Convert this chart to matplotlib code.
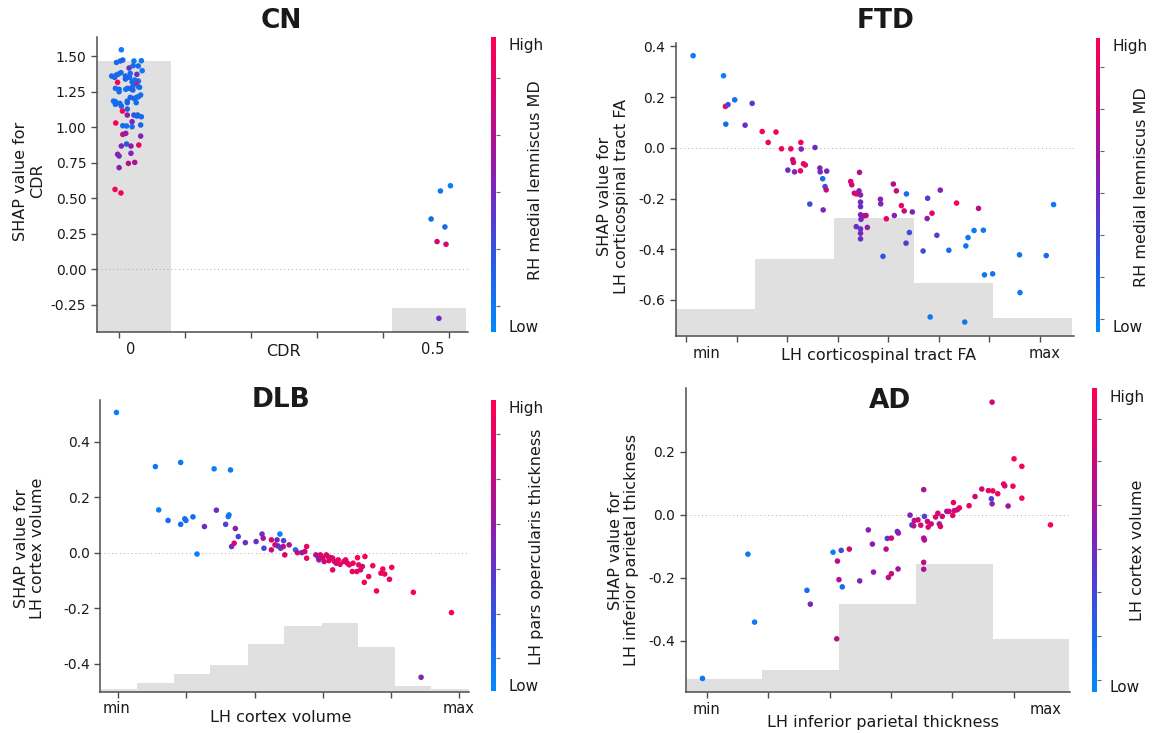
import numpy as np
import matplotlib
matplotlib.use("Agg")
import matplotlib.pyplot as plt
from matplotlib.colors import LinearSegmentedColormap, Normalize
from matplotlib.cm import ScalarMappable
from matplotlib.ticker import FixedLocator, FixedFormatter, NullFormatter

plt.rcParams["font.family"] = ["DejaVu Sans"]
plt.rcParams["axes.unicode_minus"] = False

W, H = 1156, 733

# ---- CN: SHAP for CDR, colored by RH medial lemniscus MD
cn_x = [0.0034, -0.004, 0.0017, 0.0056, 0.0225, 0.0338, 0.0152, 0.0214, 0.035, -0.0113,
        -0.0068, -0.0011, 0.0028, 0.0096, 0.0158, -0.0023, 0.027, 0.0293, 0.0254, 0.0197,
        0.0209, 0.013, 0.018, 0.0101, -0.0056, 0.0, 0.031, 0.0225, 0.0169, 0.0124,
        0.0293, 0.0327, -0.0085, -0.0056, 0.0011, 0.0034, 0.0259, 0.0124, 0.0051, 0.0124,
        0.0225, 0.027, 0.0338, -0.0051, 0.0056, 0.0197, 0.0197, 0.0327, 0.0056, 0.0101,
        0.0327, 0.0034, 0.0113, 0.018, 0.0299, -0.0023, 0.0, 0.018, 0.0, 0.0141,
        0.0237, -0.0062, 0.0028,
        0.029, -0.0045, 0.0096, 0.0169, 0.0237, 0.0, 0.0209, 0.0293, 0.0265, 0.0124,
        -0.0056, 0.0282, 0.0113,
        0.5028, 0.4876, 0.4735, 0.4944, 0.4825, 0.4961, 0.4853]
cn_y = [1.544, 1.455, 1.465, 1.472, 1.465, 1.467, 1.416, 1.432, 1.397, 1.359,
        1.35, 1.373, 1.383, 1.338, 1.35, 1.315, 1.371, 1.324, 1.308, 1.319,
        1.289, 1.273, 1.27, 1.266, 1.273, 1.249, 1.28, 1.202, 1.209, 1.183,
        1.214, 1.226, 1.183, 1.16, 1.167, 1.148, 1.172, 1.127, 1.113, 1.085,
        1.085, 1.078, 1.073, 1.029, 1.01, 1.038, 1.003, 1.015, 0.949, 0.956,
        0.937, 0.867, 0.881, 0.867, 0.874, 0.809, 0.797, 0.816, 0.715, 0.745,
        0.752, 0.562, 0.537,
        1.43, 1.366, 1.359, 1.378, 1.331, 1.266, 1.261, 1.284, 1.209, 1.172,
        1.179, 1.085, 1.008,
        0.588, 0.551, 0.354, 0.298, 0.195, 0.176, -0.345]
cn_c = [0.05, 0.15, 0.15, 0.2, 0.1, 0.1, 0.45, 0.15, 0.1, 0.15,
        0.2, 0.15, 0.15, 0.2, 0.15, 0.95, 0.45, 0.15, 0.95, 0.15,
        0.15, 0.15, 0.2, 0.15, 0.15, 0.15, 0.15, 0.15, 0.2, 0.15,
        0.15, 0.15, 0.15, 0.15, 0.15, 0.2, 0.15, 0.2, 0.95, 0.55,
        0.25, 0.2, 0.15, 0.95, 0.15, 0.5, 0.15, 0.2, 0.8, 0.55,
        0.5, 0.5, 0.25, 0.55, 0.9, 0.55, 0.5, 0.5, 0.55, 0.7,
        0.65, 0.95, 0.95,
        0.15, 0.15, 0.2, 0.15, 0.15, 0.15, 0.2, 0.15, 0.15, 0.2,
        0.15, 0.2, 0.15,
        0.05, 0.1, 0.15, 0.15, 0.8, 0.8, 0.45]
cn_edges = [-0.033, 0.078, 0.189, 0.301, 0.414, 0.527]
cn_counts = [88, 0, 0, 0, 8]
cn_n = 96

# ---- FTD: SHAP for LH corticospinal tract FA (x in tick units, min..max)
ftd_x = [0.133, 0.736, 0.773, 0.825, 0.957, 1.303, 0.781, 1.163, 1.502, 1.775,
         1.62, 1.885, 2.069, 2.268, 2.275, 2.548, 2.106, 2.121, 2.32, 2.356,
         2.01, 2.143, 2.26, 2.644, 2.651, 2.78, 2.70, 2.747, 2.77, 2.445,
         2.71, 3.255, 3.277, 3.43, 3.328, 3.37, 3.42, 3.45, 3.45, 3.45,
         3.45, 3.52, 3.46, 3.56, 3.365, 3.45, 3.586, 3.45, 3.45, 3.895,
         3.844, 3.851, 3.962, 4.1, 4.16, 4.12, 4.26, 4.315, 4.36, 4.477,
         4.352, 4.418, 4.78, 4.77, 4.867, 4.69, 4.963, 5.03, 5.2, 5.353,
         5.537, 5.58, 5.7, 5.788, 5.884, 5.906, 6.068, 6.6, 6.61, 7.13,
         7.275, 4.83, 5.515]
ftd_y = [0.363, 0.284, 0.163, 0.170, 0.189, 0.175, 0.093, 0.089, 0.064, 0.062,
         0.021, -0.004, -0.004, 0.021, -0.005, 0.001, -0.047, -0.058, -0.063, -0.068,
         -0.088, -0.095, -0.091, -0.080, -0.095, -0.092, -0.122, -0.153, -0.166, -0.222,
         -0.245, -0.133, -0.146, -0.097, -0.179, -0.182, -0.17, -0.186, -0.214, -0.232,
         -0.264, -0.268, -0.282, -0.267, -0.311, -0.32, -0.314, -0.337, -0.359, -0.428,
         -0.203, -0.221, -0.28, -0.143, -0.17, -0.267, -0.228, -0.249, -0.182, -0.253,
         -0.376, -0.334, -0.199, -0.279, -0.258, -0.407, -0.345, -0.167, -0.404, -0.218,
         -0.387, -0.354, -0.326, -0.239, -0.325, -0.501, -0.497, -0.422, -0.571, -0.425,
         -0.224, -0.667, -0.687]
ftd_c = [0.1, 0.05, 0.95, 0.3, 0.15, 0.4, 0.15, 0.45, 0.95, 0.95,
         0.9, 0.95, 0.95, 0.95, 0.5, 0.45, 0.8, 0.8, 0.9, 0.9,
         0.45, 0.5, 0.95, 0.55, 0.45, 0.5, 0.15, 0.3, 0.75, 0.3,
         0.5, 0.8, 0.8, 0.7, 0.8, 0.9, 0.55, 0.55, 0.45, 0.45,
         0.5, 0.65, 0.5, 0.7, 0.45, 0.4, 0.55, 0.5, 0.45, 0.25,
         0.55, 0.5, 0.9, 0.7, 0.75, 0.5, 0.9, 0.75, 0.15, 0.5,
         0.4, 0.3, 0.4, 0.55, 0.9, 0.3, 0.35, 0.55, 0.15, 0.95,
         0.1, 0.1, 0.1, 0.7, 0.1, 0.1, 0.1, 0.1, 0.1, 0.15,
         0.1, 0.1, 0.1]
ftd_edges = [-0.2, 1.35, 2.93, 4.5, 6.07, 7.64]
ftd_counts = [9, 26, 40, 18, 6]
ftd_n = 99

# ---- DLB: SHAP for LH cortex volume
dlb_x = [-0.027, 0.545, 0.916, 1.407, 1.647, 0.594, 0.731, 0.916, 0.976, 0.993,
         1.096, 1.156, 1.265, 1.44, 1.576, 1.614, 1.625, 1.663, 1.701, 1.718,
         1.761, 1.865, 2.023, 2.11, 2.127, 2.138, 2.247, 2.247, 2.3, 2.33,
         2.345, 2.372, 2.383, 2.426, 2.421, 2.443, 2.508, 2.601, 2.628, 2.694,
         2.737, 2.764, 2.764, 2.9, 2.928, 2.944, 2.966, 2.999, 3.021, 3.053,
         3.075, 3.092, 3.119, 3.146, 3.146, 3.173, 3.2, 3.228, 3.255, 3.31,
         3.337, 3.364, 3.39, 3.435, 3.446, 3.5, 3.511, 3.528, 3.555, 3.582,
         3.61, 3.62, 3.675, 3.735, 3.79, 3.855, 3.882, 3.91, 3.98, 4.013,
         4.33, 4.89, 4.444]
dlb_y = [0.506, 0.311, 0.326, 0.303, 0.299, 0.155, 0.117, 0.103, 0.123, 0.117,
         0.13, -0.004, 0.095, 0.154, 0.103, 0.131, 0.137, 0.023, 0.035, 0.088,
         0.059, 0.037, 0.041, 0.068, 0.053, 0.017, 0.047, 0.011, 0.029, 0.047,
         0.025, 0.068, 0.017, 0.044, 0.023, -0.007, 0.029, 0.011, 0.001, 0.001,
         0.005, 0.023, -0.019, -0.007, -0.013, -0.025, -0.007, -0.016, -0.031, -0.007,
         -0.013, -0.028, -0.017, -0.019, -0.061, -0.031, -0.037, -0.025, -0.041, -0.031,
         -0.025, -0.037, -0.043, -0.067, -0.037, -0.067, -0.017, -0.043, -0.061, -0.049,
         -0.106, -0.013, -0.085, -0.046, -0.137, -0.073, -0.058, -0.076, -0.095, -0.052,
         -0.142, -0.215, -0.448]
dlb_c = [0.05, 0.1, 0.1, 0.05, 0.1, 0.05, 0.15, 0.15, 0.1, 0.15,
         0.15, 0.05, 0.45, 0.45, 0.35, 0.1, 0.1, 0.45, 0.85, 0.55,
         0.35, 0.45, 0.45, 0.45, 0.65, 0.35, 0.85, 0.75, 0.75, 0.5,
         0.5, 0.05, 0.35, 0.35, 0.7, 0.85, 0.7, 0.15, 0.85, 0.5,
         0.75, 0.9, 0.9, 0.7, 0.55, 0.6, 0.85, 0.85, 0.75, 0.9,
         0.8, 0.9, 0.9, 0.8, 0.9, 0.9, 0.75, 0.9, 0.9, 0.9,
         0.9, 0.8, 0.9, 0.9, 0.95, 0.9, 0.95, 0.9, 0.9, 0.8,
         0.95, 0.95, 0.9, 0.95, 0.95, 0.9, 0.95, 0.9, 0.9, 0.95,
         0.95, 0.95, 0.5]
dlb_edges = [-0.251, 0.273, 0.818, 1.352, 1.903, 2.437, 2.983, 3.511, 4.057, 4.591, 5.147]
dlb_counts = [1, 3, 6, 9, 16, 22, 23, 15, 2, 1]
dlb_n = 98

# ---- AD: SHAP for LH inferior parietal thickness
ad_x = [-0.073, 0.667, 0.776, 1.63, 1.685, 2.055, 2.188, 2.32, 2.127, 2.152,
        2.206, 2.115, 2.49, 2.63, 2.697, 2.715, 2.92, 2.94, 3.006, 2.958,
        3.006, 3.103, 3.12, 3.115, 3.31, 3.34, 3.37, 3.38, 3.44, 3.485,
        3.545, 3.533, 3.533, 3.545, 3.533, 3.533, 3.594, 3.606, 3.655, 3.727,
        3.764, 3.788, 3.806, 3.836, 3.91, 3.945, 4.006, 4.018, 4.03, 4.08,
        4.115, 4.273, 4.37, 4.48, 4.588, 4.66, 4.74, 4.636, 4.648, 4.648,
        4.836, 4.855, 4.909, 4.988, 5.006, 5.133, 5.133, 5.6]
ad_y = [-0.52, -0.125, -0.341, -0.24, -0.284, -0.119, -0.113, -0.109, -0.147, -0.206,
        -0.229, -0.394, -0.21, -0.048, -0.093, -0.182, -0.109, -0.075, -0.074, -0.199,
        -0.187, -0.053, -0.058, -0.172, -0.001, -0.032, -0.035, -0.018, -0.016, -0.033,
        -0.005, 0.08, -0.074, -0.08, -0.151, -0.173, -0.021, -0.039, -0.029, -0.007,
        0.005, -0.029, -0.037, -0.005, 0.011, 0.011, -0.002, 0.039, 0.013, 0.016,
        0.022, 0.029, 0.058, 0.082, 0.077, 0.076, 0.067, 0.051, 0.035, 0.358,
        0.098, 0.092, 0.028, 0.091, 0.178, 0.154, 0.053, -0.032]
ad_c = [0.1, 0.1, 0.1, 0.15, 0.5, 0.05, 0.3, 0.8, 0.7, 0.7,
        0.15, 0.7, 0.5, 0.55, 0.55, 0.55, 0.7, 0.4, 0.8, 0.7,
        0.75, 0.4, 0.55, 0.6, 0.5, 0.3, 0.7, 0.75, 0.75, 0.85,
        0.35, 0.65, 0.65, 0.65, 0.7, 0.65, 0.75, 0.85, 0.75, 0.85,
        0.8, 0.55, 0.85, 0.75, 0.6, 0.8, 0.9, 0.9, 0.75, 0.75,
        0.9, 0.9, 0.75, 0.8, 0.9, 0.9, 0.9, 0.35, 0.55, 0.8,
        0.9, 0.8, 0.6, 0.95, 0.95, 0.95, 0.95, 0.95]
ad_edges = [-0.327, 0.897, 2.152, 3.4, 4.655, 5.909]
ad_counts = [3, 5, 20, 29, 12]
ad_n = 69

# shap-like red/blue colormap
red_blue = LinearSegmentedColormap.from_list("red_blue", [
    (0.0, "#008bfb"), (0.2, "#1e62ea"), (0.4, "#5a37d0"), (0.5, "#7c25bb"),
    (0.6, "#9e169f"), (0.8, "#d30773"), (1.0, "#ff0051")])

AXIS = "#4d4d4d"
TEXT = "#1a1a1a"


def px_rect(left, right, top, bottom):
    return [left / W, 1 - bottom / H, (right - left) / W, (bottom - top) / H]


def ftext(fig, x, y, s, **kw):
    fig.text(x / W, 1 - y / H, s, ha="center", va="center", color=TEXT, **kw)


def dependence_panel(fig, p):
    ax = fig.add_axes(px_rect(*p["ax"]))
    ax2 = ax.twinx()
    edges = np.array(p["edges"])
    ax2.bar(edges[:-1], p["counts"], width=np.diff(edges), align="edge",
            color="#e0e0e0", linewidth=0)
    ax2.set_ylim(0, p["n"])
    ax2.set_yticks([])
    for s in ax2.spines.values():
        s.set_visible(False)
    ax.set_zorder(ax2.get_zorder() + 1)
    ax.patch.set_visible(False)

    ax.axhline(0, color="#aaaaaa", lw=0.7, dashes=(1, 3), zorder=1)
    ax.scatter(p["x"], p["y"], c=p["c"], cmap=red_blue, vmin=0, vmax=1,
               s=16, linewidths=0, zorder=3)
    ax.set_xlim(p["xlim"])
    ax.set_ylim(p["ylim"])

    for side in ("top", "right"):
        ax.spines[side].set_visible(False)
    for side in ("left", "bottom"):
        ax.spines[side].set_color(AXIS)
        ax.spines[side].set_linewidth(1.1)

    ax.set_yticks(p["yticks"])
    ax.set_yticklabels([p["yfmt"] % v for v in p["yticks"]])
    ax.set_xticks(p["xticks"])
    ax.xaxis.set_major_formatter(NullFormatter())
    # labels sit at their own spots, not on the tick marks
    ax.xaxis.remove_overlapping_locs = False
    ax.xaxis.set_minor_locator(FixedLocator(p["xlab_pos"]))
    ax.xaxis.set_minor_formatter(FixedFormatter(p["xlab"]))
    ax.tick_params(axis="both", which="major", color=AXIS, labelcolor=TEXT,
                   labelsize=10, length=4, width=1)
    ax.tick_params(axis="x", which="minor", length=0, labelsize=10.5,
                   labelcolor=TEXT, pad=7)

    cax = fig.add_axes(px_rect(*p["cbar"]))
    cb = fig.colorbar(ScalarMappable(norm=Normalize(0, 1), cmap=red_blue), cax=cax)
    cb.outline.set_visible(False)
    cb.set_ticks([0.02, 0.975], labels=["Low", "High"])
    cb.set_ticks(p["cbar_minor"], minor=True)
    cax.tick_params(which="major", length=0, labelsize=11, pad=9, labelcolor=TEXT)
    cax.tick_params(which="minor", length=3, width=0.8, color="#666666")

    ftext(fig, *p["title_xy"], p["title"], fontsize=19, fontweight="bold")
    ftext(fig, *p["xlabel_xy"], p["xlabel"], fontsize=11.5)
    ftext(fig, *p["ylabel_xy"], p["ylabel"], fontsize=11.5, rotation=90,
          multialignment="center", linespacing=1.15)
    ftext(fig, *p["clabel_xy"], p["clabel"], fontsize=11.5, rotation=90)
    return ax


panels = [
    dict(title="CN", x=cn_x, y=cn_y, c=cn_c, edges=cn_edges, counts=cn_counts, n=cn_n,
         xlim=(-0.034, 0.529), ylim=(-0.443, 1.636),
         xticks=[0, 0.1, 0.2, 0.3, 0.4, 0.5], xlab_pos=[0.017, 0.476], xlab=["0", "0.5"],
         yticks=[-0.25, 0.0, 0.25, 0.5, 0.75, 1.0, 1.25, 1.5], yfmt="%.2f",
         ax=(96.7, 467.7, 36.7, 332.3), cbar=(490.7, 495.5, 37, 332),
         cbar_minor=[0.088, 0.282, 0.475, 0.669, 0.861],
         title_xy=(281, 21), xlabel="CDR", xlabel_xy=(283, 351),
         ylabel="SHAP value for\nCDR", ylabel_xy=(29, 181),
         clabel="RH medial lemniscus MD", clabel_xy=(535, 180)),
    dict(title="FTD", x=ftd_x, y=ftd_y, c=ftd_c, edges=ftd_edges, counts=ftd_counts, n=ftd_n,
         xlim=(-0.21, 7.67), ylim=(-0.742, 0.413),
         xticks=[0, 1, 2, 3, 4, 5, 6, 7], xlab_pos=[0.405, 7.1], xlab=["min", "max"],
         yticks=[-0.6, -0.4, -0.2, 0.0, 0.2, 0.4], yfmt="%.1f",
         ax=(675.8, 1073.5, 43, 336), cbar=(1095.5, 1100.3, 38, 332),
         cbar_minor=[0.044, 0.187, 0.330, 0.473, 0.617, 0.760, 0.900],
         title_xy=(886, 21), xlabel="LH corticospinal tract FA", xlabel_xy=(879, 356),
         ylabel="SHAP value for\nLH corticospinal tract FA", ylabel_xy=(613, 196),
         clabel="RH medial lemniscus MD", clabel_xy=(1141, 187)),
    dict(title="DLB", x=dlb_x, y=dlb_y, c=dlb_c, edges=dlb_edges, counts=dlb_counts, n=dlb_n,
         xlim=(-0.262, 5.147), ylim=(-0.50, 0.551),
         xticks=[0, 1, 2, 3, 4, 5], xlab_pos=[-0.03, 4.99], xlab=["min", "max"],
         yticks=[-0.4, -0.2, 0.0, 0.2, 0.4], yfmt="%.1f",
         ax=(100.4, 469, 400, 691.7), cbar=(491.4, 496.3, 400, 691),
         cbar_minor=[0.112, 0.266, 0.418, 0.573, 0.729, 0.883],
         title_xy=(281, 400), xlabel="LH cortex volume", xlabel_xy=(281, 717),
         ylabel="SHAP value for\nLH cortex volume", ylabel_xy=(29.5, 548),
         clabel="LH pars opercularis thickness", clabel_xy=(537, 547)),
    dict(title="AD", x=ad_x, y=ad_y, c=ad_c, edges=ad_edges, counts=ad_counts, n=ad_n,
         xlim=(-0.345, 5.91), ylim=(-0.564, 0.403),
         xticks=[0, 1, 2, 3, 4, 5], xlab_pos=[0.0, 5.515], xlab=["min", "max"],
         yticks=[-0.4, -0.2, 0.0, 0.2], yfmt="%.1f",
         ax=(685.8, 1069.5, 388, 692.3), cbar=(1092, 1097, 388, 692),
         cbar_minor=[0.041, 0.185, 0.329, 0.471, 0.616, 0.761, 0.899],
         title_xy=(890, 401), xlabel="LH inferior parietal thickness", xlabel_xy=(883, 722),
         ylabel="SHAP value for\nLH inferior parietal thickness", ylabel_xy=(623.5, 550),
         clabel="LH cortex volume", clabel_xy=(1137.5, 550)),
]

fig = plt.figure(figsize=(W / 100, H / 100), dpi=100)
for p in panels:
    dependence_panel(fig, p)

fig.savefig("out.png", dpi=100)
